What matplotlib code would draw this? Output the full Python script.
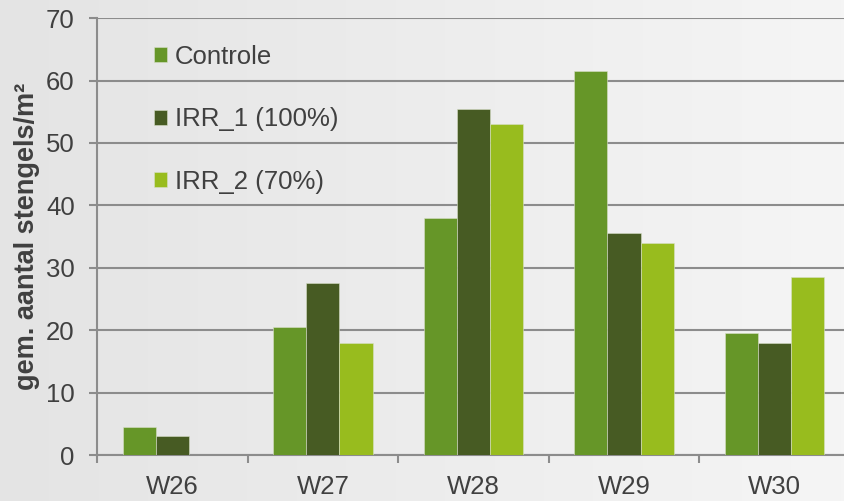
import numpy as np
import matplotlib
matplotlib.use('Agg')
import matplotlib.pyplot as plt

# data
weeks = ['W26', 'W27', 'W28', 'W29', 'W30']
controle = [4.5, 20.5, 38.0, 61.5, 19.5]
irr_1 = [3.0, 27.5, 55.5, 35.5, 18.0]
irr_2 = [np.nan, 18.0, 53.0, 34.0, 28.5]

series = [
	('Controle', controle, '#669628'),
	('IRR_1 (100%)', irr_1, '#475b23'),
	('IRR_2 (70%)', irr_2, '#98bc1e'),
]

plt.rcParams['font.family'] = ['Liberation Sans', 'DejaVu Sans']
txt_col = '#404040'
grid_col = '#8c8c8c'

fig = plt.figure(figsize=(8.44, 5.01), dpi=100)

# soft grey gradient background, darker on the left
bg = fig.add_axes([0, 0, 1, 1], zorder=-10)
grad = np.linspace(0, 1, 256).reshape(1, -1)
bg.imshow(grad, aspect='auto', cmap=matplotlib.colors.LinearSegmentedColormap.from_list(
	'bg', ['#e4e4e4', '#f5f5f5']), extent=[0, 1, 0, 1])
bg.set_axis_off()

ax = fig.add_axes([0.1149, 0.0918, 0.892, 0.872])
ax.patch.set_visible(False)

x = np.arange(len(weeks))
w = 0.22
for i, (name, vals, col) in enumerate(series):
	ax.bar(x + (i - 1) * w, vals, w, color=col, label=name, zorder=3,
		edgecolor='#d8e0c8', linewidth=0.4)

ax.set_xlim(-0.5, len(weeks) - 0.5)
ax.set_ylim(0, 70)
ax.set_yticks(range(0, 71, 10))
ax.set_xticks(x)
ax.set_xticklabels(weeks)
ax.set_xticks(np.arange(-0.5, len(weeks), 1), minor=True)

ax.grid(axis='y', color=grid_col, linewidth=1.5, zorder=0)
for s in ['top', 'right']:
	ax.spines[s].set_visible(False)
for s in ['left', 'bottom']:
	ax.spines[s].set_color(grid_col)
	ax.spines[s].set_linewidth(1.5)

ax.tick_params(axis='y', length=6, width=1.5, color=grid_col, pad=10,
	labelsize=18.5, labelcolor=txt_col)
ax.tick_params(axis='x', which='major', length=0, pad=14.5,
	labelsize=18.5, labelcolor=txt_col)
ax.tick_params(axis='x', which='minor', length=6, width=1.5, color=grid_col)

ax.set_ylabel('gem. aantal stengels/m²', fontsize=19.5, fontweight='bold',
	color=txt_col, labelpad=4)

leg = ax.legend(loc='upper left', bbox_to_anchor=(0.0757, 0.939), frameon=False,
	fontsize=18.5, labelspacing=1.5, handlelength=0.5, handleheight=0.5,
	handletextpad=0.3, borderpad=0, borderaxespad=0)
for t in leg.get_texts():
	t.set_color(txt_col)

fig.savefig('out.png', dpi=100)
